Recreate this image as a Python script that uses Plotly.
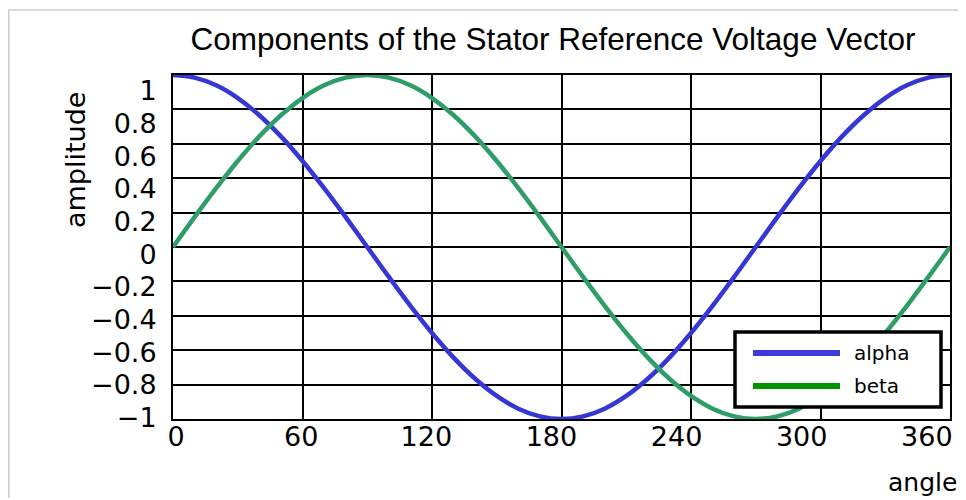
import plotly.graph_objects as go

angle = [0, 10, 20, 30, 40, 50, 60, 70, 80, 90, 100, 110, 120, 130, 140, 150, 160, 170, 180,
         190, 200, 210, 220, 230, 240, 250, 260, 270, 280, 290, 300, 310, 320, 330, 340, 350, 360]
alpha = [1.0, 0.985, 0.94, 0.866, 0.766, 0.643, 0.5, 0.342, 0.174, 0.0, -0.174, -0.342, -0.5,
         -0.643, -0.766, -0.866, -0.94, -0.985, -1.0, -0.985, -0.94, -0.866, -0.766, -0.643,
         -0.5, -0.342, -0.174, 0.0, 0.174, 0.342, 0.5, 0.643, 0.766, 0.866, 0.94, 0.985, 1.0]
beta = [0.0, 0.174, 0.342, 0.5, 0.643, 0.766, 0.866, 0.94, 0.985, 1.0, 0.985, 0.94, 0.866,
        0.766, 0.643, 0.5, 0.342, 0.174, 0.0, -0.174, -0.342, -0.5, -0.643, -0.766, -0.866,
        -0.94, -0.985, -1.0, -0.985, -0.94, -0.866, -0.766, -0.643, -0.5, -0.342, -0.174, 0.0]
series_names = ["alpha", "beta"]
x_ticks = [0, 60, 120, 180, 240, 300, 360]
y_ticks = [-1, -0.8, -0.6, -0.4, -0.2, 0, 0.2, 0.4, 0.6, 0.8, 1]
y_tick_labels = ["\u22121", "\u22120.8", "\u22120.6", "\u22120.4", "\u22120.2", "0",
                 "0.2", "0.4", "0.6", "0.8", "1"]

FONT = "DejaVu Sans, Verdana, sans-serif"
TFONT = "Liberation Sans, Arial, sans-serif"
BLUE = "#3636d4"
GREEN = "#2e9d68"
LEG_COLORS = ["#3c3cdc", "#009600"]

# page body has an 8px margin; work in figure pixel coords
W, H = 958, 490
L, R, T, B = 165, 942, 67, 411
PW, PH = R - L, B - T

# the reference's tick labels sit on a slightly compressed scale relative to the grid
XLAB_RANGE = [-1.44, 371.1]
YLAB_RANGE = [-1.009, 1.098]


def px(x):
    return (x - L) / PW


def py(y):
    return (B - y) / PH


fig = go.Figure()
fig.add_trace(go.Scatter(x=angle, y=alpha, mode="lines", line=dict(color=BLUE, width=4.5, shape="spline"),
                         name=series_names[0], showlegend=False))
fig.add_trace(go.Scatter(x=angle, y=beta, mode="lines", line=dict(color=GREEN, width=4.5, shape="spline"),
                         name=series_names[1], showlegend=False))
# carrier for the label axes
fig.add_trace(go.Scatter(x=[None], y=[None], xaxis="x2", yaxis="y2", showlegend=False, hoverinfo="skip"))

grid_axis = dict(showgrid=True, gridcolor="black", gridwidth=2, showline=True, linecolor="black",
                 linewidth=2, mirror=True, zeroline=False, showticklabels=False, ticks="")
fig.update_layout(
    xaxis=dict(range=[0, 360], tickvals=x_ticks, **grid_axis),
    yaxis=dict(range=[-1, 1], tickvals=y_ticks, **grid_axis),
    xaxis2=dict(overlaying="x", anchor="y2", side="bottom", range=XLAB_RANGE, tickvals=x_ticks,
                ticktext=[str(v) for v in x_ticks], showgrid=False, zeroline=False, showline=False,
                ticks="", ticklabelstandoff=-1, tickfont=dict(family=FONT, size=27, color="black")),
    yaxis2=dict(overlaying="y", anchor="x2", side="left", range=YLAB_RANGE, tickvals=y_ticks,
                ticktext=y_tick_labels, showgrid=False, zeroline=False, showline=False,
                ticks="outside", ticklen=10, tickcolor="rgba(0,0,0,0)",
                tickfont=dict(family=FONT, size=27, color="black")),
)

# legend box drawn in pixel space (figure coords)
LEG_BOX = (727, 324, 933, 399)
LEG_ROWS = [345, 378]
shapes = [
    dict(type="line", xref="paper", yref="paper", x0=px(0), x1=px(W),
         y0=py(2), y1=py(2), line=dict(color="#cccccc", width=1.5)),
    dict(type="line", xref="paper", yref="paper", x0=px(0.75), x1=px(0.75),
         y0=py(2), y1=py(H), line=dict(color="#cccccc", width=1.5)),
    dict(type="rect", xref="paper", yref="paper", x0=px(LEG_BOX[0]), x1=px(LEG_BOX[2]),
         y0=py(LEG_BOX[3]), y1=py(LEG_BOX[1]), fillcolor="white", line=dict(color="black", width=3.5)),
]
annotations = [
    dict(text="angle", xref="paper", yref="paper", x=px(914), y=py(474),
         xanchor="center", yanchor="middle", showarrow=False,
         font=dict(family=FONT, size=25, color="black")),
    dict(text="amplitude", xref="paper", yref="paper", x=px(67), y=py(152),
         xanchor="center", yanchor="middle", showarrow=False, textangle=-90,
         font=dict(family=FONT, size=27, color="black")),
]
for name, col, yrow in zip(series_names, LEG_COLORS, LEG_ROWS):
    shapes.append(dict(type="line", xref="paper", yref="paper", x0=px(745), x1=px(832),
                       y0=py(yrow), y1=py(yrow), line=dict(color=col, width=6)))
    annotations.append(dict(text=name, xref="paper", yref="paper", x=px(844), y=py(yrow),
                            xanchor="left", yanchor="middle", showarrow=False,
                            font=dict(family=FONT, size=20, color="black")))

fig.update_layout(
    width=W, height=H,
    margin=dict(l=L, r=W - R, t=T, b=H - B),
    paper_bgcolor="white", plot_bgcolor="white",
    showlegend=False,
    title=dict(text="Components of the Stator Reference Voltage Vector", x=(553 - 8) / W, xanchor="center",
               y=1 - 31 / H, yanchor="middle", font=dict(family=TFONT, size=31.5, color="black")),
    annotations=annotations,
    shapes=shapes,
)

fig.write_html("out.html")
